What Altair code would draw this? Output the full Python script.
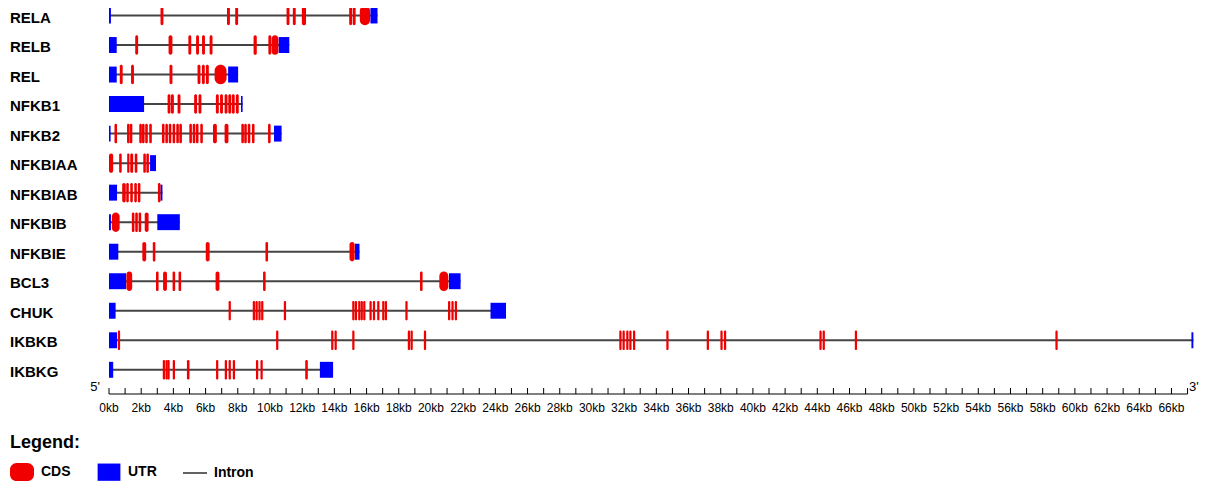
import altair as alt
import pandas as pd

FONT = "Liberation Sans"

GENES = ["RELA", "RELB", "REL", "NFKB1", "NFKB2", "NFKBIAA", "NFKBIAB",
         "NFKBIB", "NFKBIE", "BCL3", "CHUK", "IKBKB", "IKBKG"]

# exon coordinates in kb (start, end)
RELA_CDS = [(3.2, 3.38), (7.33, 7.51), (7.84, 8.02), (11.03, 11.21), (11.42, 11.6),
            (11.98, 12.24), (14.92, 15.1), (15.14, 15.32), (15.58, 16.22)]
RELA_UTR = [(0.0, 0.12), (16.24, 16.68)]

RELB_CDS = [(1.63, 1.81), (3.7, 3.94), (4.93, 5.11), (5.41, 5.59), (5.78, 5.96),
            (6.25, 6.43), (8.98, 9.18), (9.9, 10.08), (10.1, 10.52)]
RELB_UTR = [(0.0, 0.48), (10.54, 11.2)]

REL_CDS = [(0.67, 0.85), (1.37, 1.55), (3.76, 3.94), (5.5, 5.68), (5.77, 5.95),
           (6.02, 6.2), (6.56, 7.3)]
REL_UTR = [(0.0, 0.48), (7.4, 8.02)]

NFKB1_CDS = [(3.64, 3.82), (3.85, 4.03), (4.26, 4.44), (5.29, 5.47), (5.56, 5.74),
             (6.64, 6.82), (6.9, 7.08), (7.18, 7.36), (7.41, 7.59), (7.63, 7.81), (7.88, 8.06)]
NFKB1_UTR = [(0.0, 2.18), (8.2, 8.3)]

NFKB2_CDS = [(0.34, 0.5), (1.12, 1.28), (1.29, 1.45), (1.88, 2.04), (2.05, 2.21),
             (2.25, 2.41), (2.5, 2.66), (3.29, 3.45), (3.5, 3.66), (3.71, 3.87),
             (3.95, 4.11), (4.18, 4.34), (4.37, 4.53), (4.99, 5.15), (5.2, 5.36),
             (5.4, 5.56), (5.67, 5.83), (6.46, 6.7), (7.18, 7.42), (8.22, 8.38),
             (8.4, 8.56), (8.62, 8.78), (8.88, 9.04), (9.88, 10.04)]
NFKB2_UTR = [(0.0, 0.1), (10.25, 10.72)]

NFKBIAA_CDS = [(0.0, 0.26), (0.63, 0.79), (1.13, 1.27), (1.32, 1.5), (1.6, 1.76),
               (2.13, 2.29), (2.32, 2.48)]
NFKBIAA_UTR = [(2.55, 2.92)]

NFKBIAB_CDS = [(0.82, 1.04), (1.07, 1.23), (1.32, 1.48), (1.57, 1.73), (1.79, 1.95),
               (3.04, 3.2)]
NFKBIAB_UTR = [(0.0, 0.5), (3.2, 3.32)]

NFKBIB_CDS = [(0.18, 0.66), (1.42, 1.58), (1.63, 1.79), (1.84, 2.0), (2.22, 2.46)]
NFKBIB_UTR = [(0.0, 0.12), (3.0, 4.4)]

NFKBIE_CDS = [(2.07, 2.31), (2.72, 2.88), (6.01, 6.25), (9.72, 9.88), (14.94, 15.26)]
NFKBIE_UTR = [(0.0, 0.58), (15.28, 15.56)]

BCL3_CDS = [(1.08, 1.44), (2.92, 3.08), (3.36, 3.6), (3.95, 4.11), (4.32, 4.48),
            (6.62, 6.86), (9.57, 9.73), (19.32, 19.48), (20.52, 21.08)]
BCL3_UTR = [(0.0, 1.06), (21.12, 21.84)]

CHUK_CDS = [(7.43, 7.57), (8.93, 9.07), (9.1, 9.24), (9.28, 9.42), (9.45, 9.59),
            (10.86, 11.0), (15.11, 15.25), (15.27, 15.41), (15.48, 15.62), (15.63, 15.77),
            (15.79, 15.93), (16.18, 16.32), (16.39, 16.53), (16.66, 16.8), (16.97, 17.11),
            (17.13, 17.27), (18.41, 18.55), (21.06, 21.2), (21.27, 21.41), (21.48, 21.62)]
CHUK_UTR = [(0.0, 0.41), (23.7, 24.66)]

IKBKB_CDS = [(0.55, 0.69), (10.38, 10.52), (13.8, 13.94), (14.01, 14.15), (15.11, 15.25),
             (18.56, 18.7), (18.73, 18.87), (19.56, 19.7), (31.7, 31.84), (31.9, 32.04),
             (32.13, 32.27), (32.32, 32.46), (32.55, 32.69), (34.62, 34.76), (37.13, 37.27),
             (37.98, 38.12), (38.2, 38.34), (44.13, 44.27), (44.33, 44.47), (46.33, 46.47),
             (58.79, 58.93)]
IKBKB_UTR = [(0.0, 0.5), (67.24, 67.36)]

IKBKG_CDS = [(3.34, 3.48), (3.51, 3.65), (3.63, 3.77), (3.96, 4.1), (4.84, 5.0),
             (6.65, 6.79), (7.19, 7.33), (7.43, 7.57), (7.69, 7.83), (9.13, 9.27),
             (9.41, 9.55), (12.19, 12.35)]
IKBKG_UTR = [(0.0, 0.26), (13.1, 13.92)]

CDS_BY_GENE = [RELA_CDS, RELB_CDS, REL_CDS, NFKB1_CDS, NFKB2_CDS, NFKBIAA_CDS,
               NFKBIAB_CDS, NFKBIB_CDS, NFKBIE_CDS, BCL3_CDS, CHUK_CDS, IKBKB_CDS, IKBKG_CDS]
UTR_BY_GENE = [RELA_UTR, RELB_UTR, REL_UTR, NFKB1_UTR, NFKB2_UTR, NFKBIAA_UTR,
               NFKBIAB_UTR, NFKBIB_UTR, NFKBIE_UTR, BCL3_UTR, CHUK_UTR, IKBKB_UTR, IKBKG_UTR]

AXIS_TICKS_KB = list(range(0, 68))
AXIS_LABELS_KB = list(range(0, 67, 2))
LEGEND_ITEMS = ["CDS", "UTR", "Intron"]

RED = "#f00000"
BLUE = "#0000ff"
GREY = "#444444"

# ---- tables ----
cds_rows, utr_rows, gene_rows = [], [], []
for i, g in enumerate(GENES):
    for s, e in CDS_BY_GENE[i]:
        cds_rows.append({"gene": g, "row": i, "kb_start": s, "kb_end": e})
    for s, e in UTR_BY_GENE[i]:
        utr_rows.append({"gene": g, "row": i, "kb_start": s, "kb_end": e})
    feats = CDS_BY_GENE[i] + UTR_BY_GENE[i]
    gene_rows.append({"gene": g, "row": i,
                      "kb_start": min(f[0] for f in feats),
                      "kb_end": max(f[1] for f in feats)})
cds_df = pd.DataFrame(cds_rows)
utr_df = pd.DataFrame(utr_rows)
gene_df = pd.DataFrame(gene_rows)
tick_df = pd.DataFrame({"kb": AXIS_TICKS_KB})
label_df = pd.DataFrame({"kb": AXIS_LABELS_KB})
axis_df = pd.DataFrame({"kb_start": [AXIS_TICKS_KB[0]], "kb_end": [AXIS_TICKS_KB[-1]]})
legend_df = pd.DataFrame({"feature": LEGEND_ITEMS})

x_scale = alt.Scale(domain=[0, 67.4], nice=False, zero=False)
y_scale = alt.Scale(domain=[0, 12], range=[7.5, 361.8], nice=False, zero=False)

introns = alt.Chart(gene_df).mark_rule(color=GREY, strokeWidth=2).encode(
    x=alt.X("kb_start:Q", scale=x_scale, axis=None),
    x2="kb_end:Q",
    y=alt.Y("row:Q", scale=y_scale, axis=None),
)

utrs = alt.Chart(utr_df).transform_calculate(
    y0="datum.row - 0.27", y1="datum.row + 0.27"
).mark_rect(color=BLUE).encode(
    x=alt.X("kb_start:Q", scale=x_scale, axis=None),
    x2="kb_end:Q",
    y=alt.Y("y0:Q", scale=y_scale, axis=None),
    y2="y1:Q",
)

cds = alt.Chart(cds_df).transform_calculate(
    y0="datum.row - 0.33", y1="datum.row + 0.33"
).mark_rect(
    color=RED,
    cornerRadius=alt.expr("min((scale('x', datum.kb_end) - scale('x', datum.kb_start)) / 2, 9)"),
).encode(
    x=alt.X("kb_start:Q", scale=x_scale, axis=None),
    x2="kb_end:Q",
    y=alt.Y("y0:Q", scale=y_scale, axis=None),
    y2="y1:Q",
)

gene_labels = alt.Chart(gene_df).mark_text(
    align="left", baseline="middle", dy=2, fontSize=15, fontWeight="bold",
    font=FONT, color="black",
).encode(
    y=alt.Y("row:Q", scale=y_scale, axis=None),
    x=alt.value(-99),
    text="gene:N",
)

axis_line = alt.Chart(axis_df).mark_rule(color="black", strokeWidth=1).encode(
    x=alt.X("kb_start:Q", scale=x_scale, axis=None),
    x2="kb_end:Q",
    y=alt.value(386),
)

axis_ticks = alt.Chart(tick_df).mark_rule(color="black", strokeWidth=1).encode(
    x=alt.X("kb:Q", scale=x_scale, axis=None),
    y=alt.value(380),
    y2=alt.value(386),
)

axis_labels = alt.Chart(label_df).transform_calculate(
    lab="datum.kb + 'kb'"
).mark_text(fontSize=12, font=FONT, color="black", baseline="middle").encode(
    x=alt.X("kb:Q", scale=x_scale, axis=None),
    y=alt.value(400),
    text="lab:N",
)

five = alt.Chart(pd.DataFrame({"t": ["5'"]})).mark_text(
    fontSize=13, font=FONT, color="black", align="right", baseline="middle"
).encode(x=alt.value(-9), y=alt.value(379), text="t:N")

three = alt.Chart(pd.DataFrame({"t": ["3'"]})).mark_text(
    fontSize=13, font=FONT, color="black", align="left", baseline="middle"
).encode(x=alt.value(1080), y=alt.value(379), text="t:N")

leg = alt.Legend(
    title="Legend:", orient="none", legendX=-99, legendY=426, direction="horizontal",
    titleFontSize=18, titleFontWeight="bold", titleFont=FONT, titleColor="black",
    titleAnchor="start", titlePadding=8,
    labelFontSize=14, labelFontWeight="bold", labelFont=FONT, labelColor="black",
    labelOffset=7, columnPadding=26, symbolSize=576, symbolStrokeWidth=0,
    symbolOpacity=1, padding=0,
)
legend_layer = alt.Chart(legend_df).mark_point(filled=True, clip=True, opacity=1).encode(
    x=alt.value(-500),
    y=alt.value(-500),
    color=alt.Color("feature:N", scale=alt.Scale(domain=LEGEND_ITEMS, range=[RED, BLUE, GREY]), legend=leg),
    shape=alt.Shape("feature:N", scale=alt.Scale(
        domain=LEGEND_ITEMS,
        range=["M-0.45,-0.75 L0.45,-0.75 A0.55,0.55 0 0,1 1,-0.2 L1,0.2 A0.55,0.55 0 0,1 0.45,0.75 "
               "L-0.45,0.75 A0.55,0.55 0 0,1 -1,0.2 L-1,-0.2 A0.55,0.55 0 0,1 -0.45,-0.75 Z",
               "M-0.95,-0.72 L0.95,-0.72 L0.95,0.72 L-0.95,0.72 Z",
               "M-1,-0.07 L1,-0.07 L1,0.07 L-1,0.07 Z"]), legend=leg),
)

chart = alt.layer(
    introns, utrs, cds, gene_labels, axis_line, axis_ticks, axis_labels, five, three, legend_layer
).properties(
    width=1085, height=476,
    padding={"left": 101, "top": 0, "right": 8, "bottom": 0},
    autosize=alt.AutoSizeParams(type="none"),
).configure_view(strokeWidth=0)

chart.save("out.html", embed_options={"renderer": "svg", "actions": False})
